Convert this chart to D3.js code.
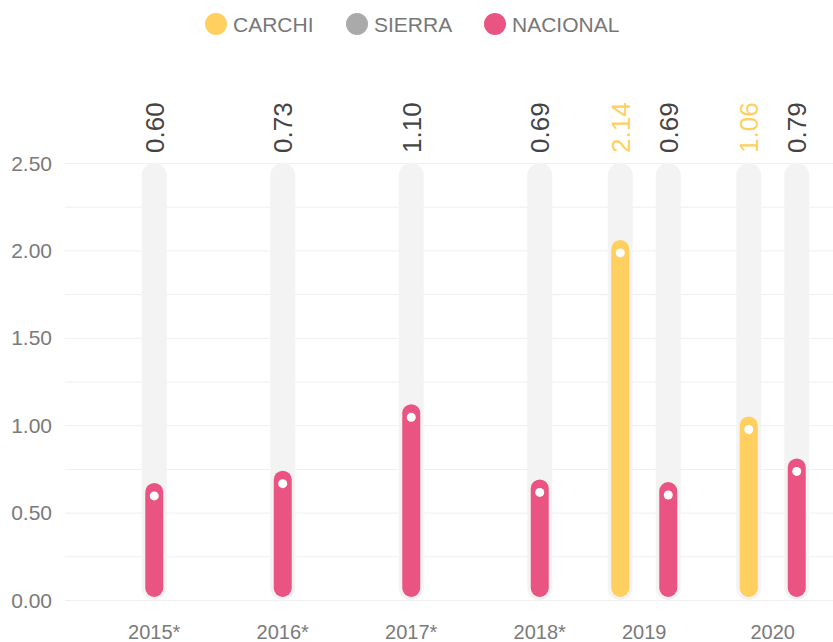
<!DOCTYPE html>
<html>
<head>
<meta charset="utf-8">
<script src="https://cdn.jsdelivr.net/npm/d3@7"></script>
<style>
    body { margin: 0; background: #fff; }
    text { font-family: "Liberation Sans", Arial, sans-serif; }
</style>
</head>
<body>
<div id="chart" style="width:833px;height:642px"></div>
<script>
// data
const years = ["2015*", "2016*", "2017*", "2018*", "2019", "2020"];
const seriesNames = ["CARCHI", "SIERRA", "NACIONAL"];
const seriesColors = ["#ffcf5f", "#aaaaab", "#ea5482"];
// label values shown on top
const carchiLabels = [null, null, null, null, "2.14", "1.06"];
const nacionalLabels = ["0.60", "0.73", "1.10", "0.69", "0.69", "0.79"];
// bar heights as drawn
const carchiBars = [null, null, null, null, 2.06, 1.05];
const nacionalBars = [0.67, 0.74, 1.12, 0.69, 0.675, 0.81];
const yTicks = [0, 0.5, 1, 1.5, 2, 2.5];
const yGrid = [0, 0.25, 0.5, 0.75, 1, 1.25, 1.5, 1.75, 2, 2.25, 2.5];

class PillChart {
    constructor (opts) {
        this.element = opts.element;
        this.width = 833;
        this.height = 642;

        this.svg = d3.select(this.element)
            .append("svg")
            .attr("width", this.width)
            .attr("height", this.height);

        this.x = d3.scaleBand().domain(years).range([66, 837]);
        this.sub = d3.scalePoint().domain(["CARCHI", "NACIONAL"]).range([-24, 24]);
        this.y = d3.scaleLinear().domain([0, 2.5]).range([600, 163]);

        this.bars = [];
        years.forEach((yr, i) => {
            if (carchiBars[i] != null)
                this.bars.push({year: yr, series: "CARCHI", v: carchiBars[i], label: carchiLabels[i], color: seriesColors[0], labelColor: seriesColors[0]});
            if (nacionalBars[i] != null)
                this.bars.push({year: yr, series: "NACIONAL", v: nacionalBars[i], label: nacionalLabels[i], color: seriesColors[2], labelColor: "#444"});
        });

        this.drawGrid();
        this.drawBars();
        this.drawLegend();
    }

    cx(d) {
        return this.x(d.year) + this.x.bandwidth() / 2 + this.sub(d.series);
    }

    drawGrid() {
        this.svg.append("g").selectAll("line").data(yGrid).enter()
            .append("line")
            .attr("x1", 65).attr("x2", this.width)
            .attr("y1", d => this.y(d) + 0.5).attr("y2", d => this.y(d) + 0.5)
            .attr("stroke", "#efefef")
            .attr("stroke-width", 1);

        this.svg.append("g").selectAll("text").data(yTicks).enter()
            .append("text")
            .attr("x", 52)
            .attr("y", d => this.y(d))
            .attr("dy", "0.36em")
            .attr("text-anchor", "end")
            .attr("font-size", 21)
            .attr("fill", "#7a7a7a")
            .text(d => d.toFixed(2));

        // x labels centred under the bars that exist in each year
        this.svg.append("g").selectAll("text").data(years).enter()
            .append("text")
            .attr("x", yr => d3.mean(this.bars.filter(b => b.year == yr), b => this.cx(b)))
            .attr("y", 639)
            .attr("text-anchor", "middle")
            .attr("font-size", 20)
            .attr("fill", "#7a7a7a")
            .text(d => d);
    }

    drawBars() {
        const g = this.svg.append("g");
        const y0 = this.y(0);

        g.selectAll(".track").data(this.bars).enter()
            .append("rect")
            .attr("class", "track")
            .attr("x", d => this.cx(d) - 12.5)
            .attr("width", 25)
            .attr("y", this.y(2.5))
            .attr("height", y0 - this.y(2.5))
            .attr("rx", 12.5)
            .attr("fill", "#f3f3f3");

        g.selectAll(".bar").data(this.bars).enter()
            .append("rect")
            .attr("class", "bar")
            .attr("x", d => this.cx(d) - 9)
            .attr("width", 18)
            .attr("y", d => this.y(d.v))
            .attr("height", d => y0 - 3 - this.y(d.v))
            .attr("rx", 9)
            .attr("fill", d => d.color);

        g.selectAll(".dot").data(this.bars).enter()
            .append("circle")
            .attr("cx", d => this.cx(d))
            .attr("cy", d => this.y(d.v) + 13)
            .attr("r", 4.5)
            .attr("fill", "#fff");

        g.selectAll(".val").data(this.bars).enter()
            .append("text")
            .attr("transform", d => "translate(" + this.cx(d) + ",153) rotate(-90)")
            .attr("dy", "0.36em")
            .attr("font-size", 26)
            .attr("fill", d => d.labelColor)
            .text(d => d.label);
    }

    drawLegend() {
        const items = [
            {name: seriesNames[0], color: seriesColors[0], x: 216},
            {name: seriesNames[1], color: seriesColors[1], x: 357},
            {name: seriesNames[2], color: seriesColors[2], x: 495}
        ];
        const lg = this.svg.append("g").selectAll("g").data(items).enter()
            .append("g")
            .attr("transform", d => "translate(" + d.x + ",24)");
        lg.append("circle").attr("r", 11).attr("fill", d => d.color);
        lg.append("text")
            .attr("x", 17)
            .attr("dy", "0.36em")
            .attr("font-size", 21)
            .attr("fill", "#777")
            .text(d => d.name);
    }
}

new PillChart({element: "#chart"});
</script>
</body>
</html>
